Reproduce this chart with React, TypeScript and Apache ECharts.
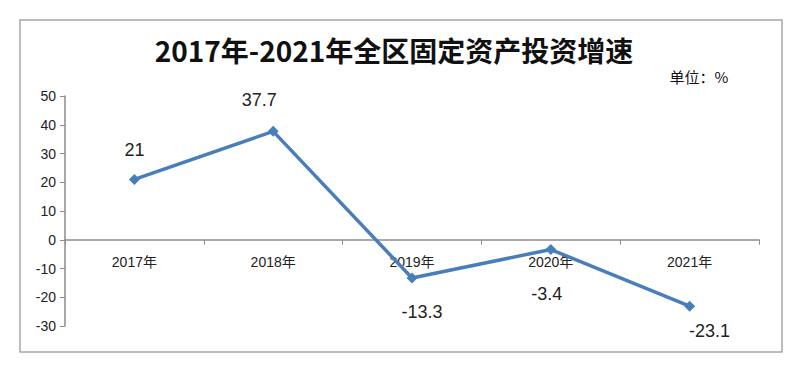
import React, { useEffect, useRef } from "react";
import * as echarts from "echarts";

const categories = ["2017年", "2018年", "2019年", "2020年", "2021年"];
const values = [21, 37.7, -13.3, -3.4, -23.1];
const titleText = "2017年-2021年全区固定资产投资增速";
const unitText = "单位：%";

const labelPos = ["top", "top", "bottom", "bottom", "bottom"];
const labelDist = [15, 17, 20, 30, 10];
const labelDx = [0, -14, 10, -4, 20];

export default function App() {
  const ref = useRef<HTMLDivElement>(null);
  useEffect(() => {
    if (!ref.current) return;
    const chart = echarts.init(ref.current, null, { renderer: "svg" });
    const font = "Liberation Sans, Noto Sans CJK SC, sans-serif";
    chart.setOption({
      animation: false,
      backgroundColor: "#ffffff",
      graphic: [
        {
          type: "rect",
          shape: { x: 20, y: 20, width: 762, height: 332 },
          style: { fill: "none", stroke: "#a6a6a6", lineWidth: 1.5 },
          silent: true,
        },
        {
          type: "text",
          x: 394,
          y: 50,
          style: {
            text: titleText,
            font: "bold 28px 'Noto Sans CJK SC', sans-serif",
            fill: "#111",
            align: "center",
            verticalAlign: "middle",
          },
        },
        {
          type: "text",
          x: 699,
          y: 76,
          style: {
            text: unitText,
            font: "15px 'Noto Sans CJK SC', sans-serif",
            fill: "#111",
            align: "center",
            verticalAlign: "middle",
          },
        },
      ],
      grid: { left: 65, right: 41, top: 96, bottom: 46, containLabel: false },
      xAxis: {
        type: "category",
        data: categories,
        boundaryGap: true,
        axisLine: { onZero: true, lineStyle: { color: "#8c8c8c", width: 1.5 } },
        axisTick: { show: true, length: 5, inside: false, lineStyle: { color: "#8c8c8c" } },
        axisLabel: { color: "#222", fontSize: 14, fontFamily: font, margin: -71 },
        splitLine: { show: false },
      },
      yAxis: {
        type: "value",
        min: -30,
        max: 50,
        interval: 10,
        axisLine: { show: true, lineStyle: { color: "#8c8c8c", width: 1.5 } },
        axisTick: { show: true, length: 5, lineStyle: { color: "#8c8c8c" } },
        axisLabel: { color: "#222", fontSize: 14, fontFamily: font, margin: 9 },
        splitLine: { show: false },
      },
      series: [
        {
          type: "line",
          data: values.map((v, i) => ({
            value: v,
            label: {
              position: labelPos[i],
              distance: labelDist[i],
              offset: [labelDx[i], 0],
            },
          })),
          symbol: "diamond",
          symbolSize: 11,
          lineStyle: { color: "#4A7EBB", width: 3.5 },
          itemStyle: { color: "#4A7EBB" },
          label: {
            show: true,
            color: "#222",
            fontSize: 18,
            fontFamily: font,
          },
        },
      ],
    });
    return () => chart.dispose();
  }, []);
  return (
    <div
      ref={ref}
      style={{ position: "fixed", left: 0, top: 0, width: 800, height: 372 }}
    />
  );
}
